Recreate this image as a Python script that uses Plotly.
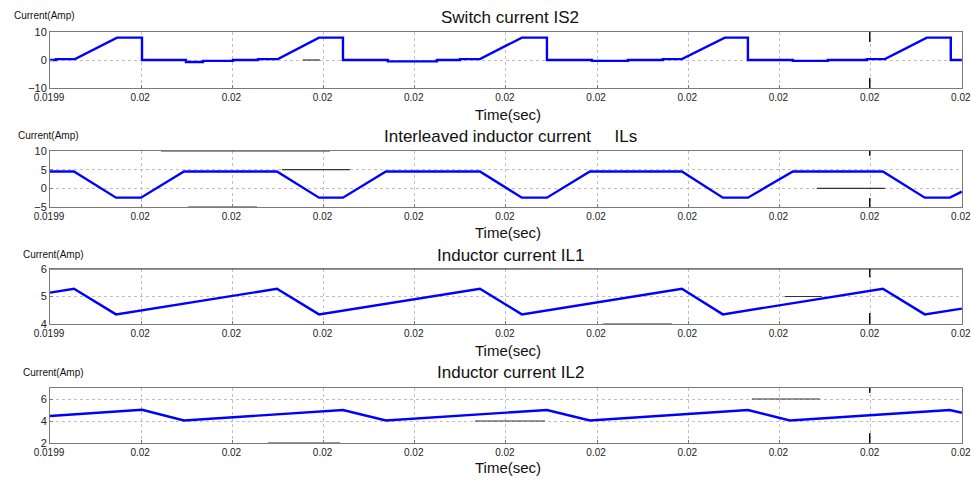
import plotly.graph_objects as go

# ---------------- data (time offset in microseconds from 0.0199 s) ----------------
T0 = 0.0199
is2_t = [0, 0.66, 0.66, 2.74, 7.35, 10.09, 10.09, 14.91, 14.91, 16.78, 16.78, 20.07, 20.07,
         22.81, 22.81, 25.0, 29.5, 32.13, 32.13, 37.06, 37.06, 42.43, 42.43, 44.96, 44.96,
         47.15, 51.75, 54.5, 54.5, 59.43, 59.43, 63.38, 63.38, 67.21, 67.21, 69.3, 74.01,
         76.54, 76.54, 81.47, 81.47, 85.31, 85.31, 89.58, 89.58, 91.56, 96.16, 98.79, 98.79, 100]
is2_v = [0, 0, 0.3, 0.3, 8, 8, 0, 0, -0.7, -0.7, -0.3, -0.3, 0,
         0, 0.3, 0.3, 8, 8, 0, 0, -0.5, -0.5, 0, 0, 0.3,
         0.3, 8, 8, 0, 0, -0.3, -0.3, 0, 0, 0.3, 0.3, 8,
         8, 0, 0, -0.3, -0.3, 0, 0, 0.3, 0.3, 8, 8, 0, 0]

ils_t = [0, 2.63, 7.24, 9.98, 14.69, 24.89, 29.5, 32.13, 36.84, 47.15, 51.75, 54.5,
         59.21, 69.3, 73.79, 76.54, 81.47, 91.34, 95.94, 98.68, 100]
ils_v = [4.5, 4.5, -2.5, -2.5, 4.5, 4.5, -2.5, -2.5, 4.5, 4.5, -2.5, -2.5,
         4.5, 4.5, -2.5, -2.5, 4.5, 4.5, -2.5, -2.5, -0.9]

il1_t = [0, 2.63, 7.24, 24.89, 29.5, 47.15, 51.75, 69.3, 73.79, 91.34, 95.94, 100]
il1_v = [5.14, 5.28, 4.35, 5.28, 4.35, 5.28, 4.35, 5.28, 4.35, 5.28, 4.35, 4.56]

il2_t = [0, 10.09, 14.69, 32.13, 36.84, 54.5, 59.21, 76.54, 81.14, 98.68, 100]
il2_v = [4.46, 5.02, 4.05, 5.0, 4.05, 5.0, 4.05, 5.0, 4.05, 5.0, 4.75]

# dark leftover segments visible in the scope figure: (t_start_us, t_end_us, level)
dark_h_segments = [
    [(27.74, 29.61, 0)],
    [(12.17, 30.70, 10), (25.44, 32.89, 5), (15.13, 22.70, -5), (84.10, 91.56, 0)],
    [(0, 100, 6), (80.59, 84.65, 5), (60.64, 68.20, 4)],
    [(76.97, 84.43, 6), (46.60, 54.28, 4), (23.90, 31.80, 2)],
]
# dark cursor marks at one time instant: (y_from, y_to) pieces per panel
cursor_t_us = 89.9
cursor_pieces = [
    [(6.4, 10), (-10, -6.4)],
    [(8.7, 10), (-5, -2.6)],
    [(5.7, 6), (4, 4.4)],
    [(6.55, 7), (2, 2.9)],
]

titles = ["Switch current IS2", "Interleaved inductor current     ILs",
          "Inductor current IL1", "Inductor current IL2"]
y_ranges = [[-10, 10], [-5, 10], [4, 6], [2, 7]]
y_ticks = [[-10, 0, 10], [-5, 0, 5, 10], [4, 5, 6], [2, 4, 6]]
x_tick_us = [0, 10, 20, 30, 40, 50, 60, 70, 80, 90, 100]
x_tick_text = ["0.0199"] + ["0.02"] * 10
ylabel = "Current(Amp)"
xlabel = "Time(sec)"

series = [(is2_t, is2_v), (ils_t, ils_v), (il1_t, il1_v), (il2_t, il2_v)]

# ---------------- layout geometry (pixels) ----------------
W, H = 971, 480
x0_px, x1_px = 50, 962
panels_px = [(32, 88), (151, 207), (269, 324), (388, 443)]
title_y_px = [18, 136, 255, 372]
ylab_px = [(12, 16), (16, 135), (21, 254), (21, 372)]
xlab_y_px = [114, 232, 350, 467]

FONT = "Liberation Sans, Arial, sans-serif"


def py(p):
    return 1 - p / H


def tx(us):
    return [T0 + u * 1e-6 for u in us]


fig = go.Figure()
annotations = []
layout = dict(
    width=W, height=H, margin=dict(l=0, r=0, t=0, b=0, pad=0, autoexpand=False),
    paper_bgcolor="white", plot_bgcolor="white", showlegend=False,
    font=dict(family=FONT, color="#222", size=11),
)

for i, ((t, v), (top, bot)) in enumerate(zip(series, panels_px)):
    n = "" if i == 0 else str(i + 1)
    # dark horizontal leftovers
    hx, hy = [], []
    for (a, b, lev) in dark_h_segments[i]:
        hx += tx([a, b]) + [None]
        hy += [lev, lev, None]
    fig.add_trace(go.Scatter(x=hx, y=hy, mode="lines", line=dict(color="#333333", width=1.2),
                             xaxis="x" + n, yaxis="y" + n, hoverinfo="skip", cliponaxis=False))
    cx, cy = [], []
    for (a, b) in cursor_pieces[i]:
        cx += tx([cursor_t_us, cursor_t_us]) + [None]
        cy += [a, b, None]
    fig.add_trace(go.Scatter(x=cx, y=cy, mode="lines", line=dict(color="#111111", width=1.5),
                             xaxis="x" + n, yaxis="y" + n, hoverinfo="skip"))
    fig.add_trace(go.Scatter(x=tx(t), y=v, mode="lines",
                             line=dict(color="#0000ff", width=2.4),
                             xaxis="x" + n, yaxis="y" + n, hoverinfo="skip"))
    layout["xaxis" + n] = dict(
        domain=[x0_px / W, x1_px / W], anchor="y" + n,
        range=[T0, T0 + 100.02e-6], automargin=False, ticklabeloverflow="allow",
        ticklabelshift=-1,
        tickmode="array", tickvals=tx(x_tick_us), ticktext=x_tick_text,
        showgrid=True, gridcolor="#c0c0c0", griddash="dot", gridwidth=1,
        showline=True, linecolor="#7a7a7a", linewidth=1, mirror=True,
        ticks="inside", ticklen=3, tickcolor="#7a7a7a",
        tickfont=dict(size=10, family=FONT, color="#222"),
        zeroline=False, fixedrange=True,
    )
    layout["yaxis" + n] = dict(
        domain=[py(bot), py(top)], anchor="x" + n,
        range=y_ranges[i], tickmode="array", tickvals=y_ticks[i], automargin=False,
        showgrid=True, gridcolor="#c0c0c0", griddash="dot", gridwidth=1,
        showline=True, linecolor="#7a7a7a", linewidth=1, mirror=True,
        ticks="inside", ticklen=3, tickcolor="#7a7a7a",
        tickfont=dict(size=11, family=FONT, color="#222"),
        zeroline=False, fixedrange=True,
    )
    annotations.append(dict(text=titles[i], x=510 / W, y=py(title_y_px[i]),
                            xref="paper", yref="paper", showarrow=False,
                            xanchor="center", yanchor="middle",
                            font=dict(size=17, family=FONT, color="#111")))
    annotations.append(dict(text=ylabel, x=ylab_px[i][0] / W, y=py(ylab_px[i][1]),
                            xref="paper", yref="paper", showarrow=False,
                            xanchor="left", yanchor="middle",
                            font=dict(size=10, family=FONT, color="#111")))
    annotations.append(dict(text=xlabel, x=508 / W, y=py(xlab_y_px[i]),
                            xref="paper", yref="paper", showarrow=False,
                            xanchor="center", yanchor="middle",
                            font=dict(size=15, family=FONT, color="#111")))

layout["annotations"] = annotations
fig.update_layout(**layout)
fig.write_html("out.html")
